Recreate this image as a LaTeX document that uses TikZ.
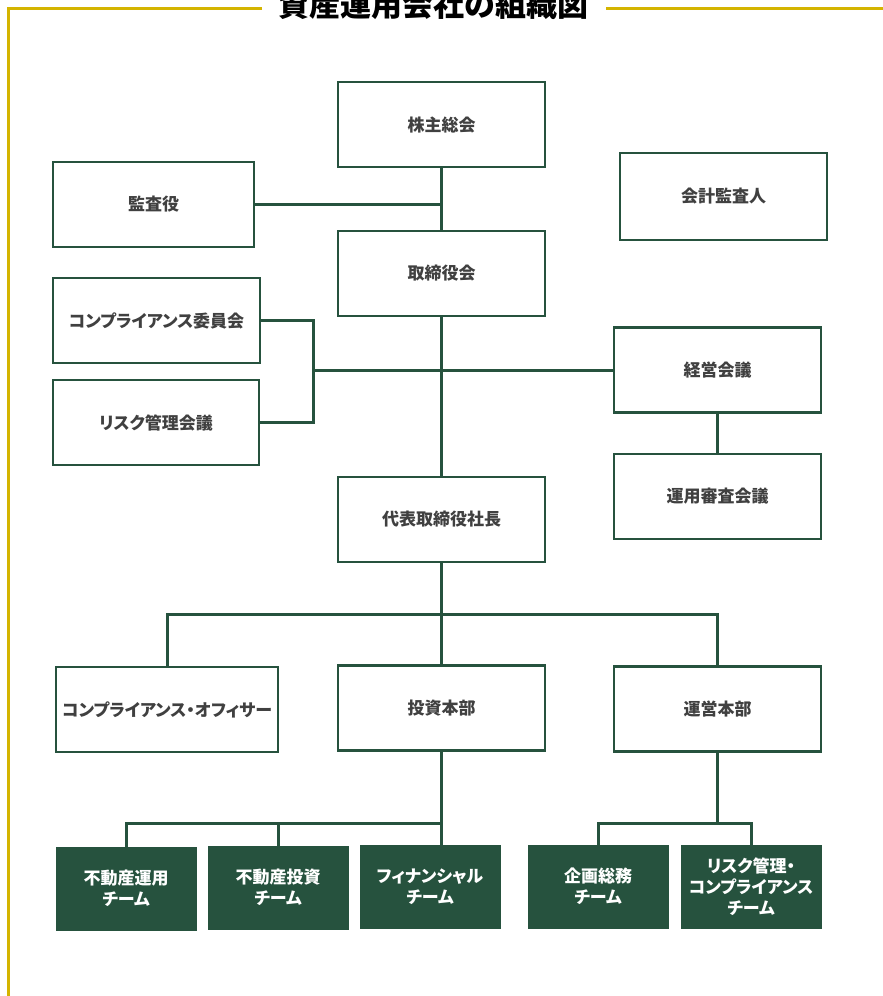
\documentclass[tikz,border=0pt]{standalone}
\usepackage{fontspec}
\setmainfont{Noto Sans CJK JP}[RawFeature=+palt]
\usetikzlibrary{positioning}

\definecolor{orggreen}{RGB}{38,82,62}
\definecolor{framegold}{RGB}{212,180,0}
\definecolor{boxtext}{RGB}{64,64,64}

\begin{document}
\begin{tikzpicture}[x=1pt,y=-1pt,
  orgbox/.style={draw=orggreen,line width=2.2pt,fill=white,
    minimum width=207pt,minimum height=85pt,inner sep=0pt,
    font=\fontsize{17}{21}\selectfont\bfseries,text=boxtext,align=center},
  teambox/.style={draw=orggreen,line width=1pt,fill=orggreen,
    minimum width=140pt,minimum height=83pt,inner sep=0pt,
    font=\fontsize{17}{21}\selectfont\bfseries,text=white,align=center},
  link/.style={draw=orggreen,line width=3pt},
  frameline/.style={draw=framegold,line width=3pt}]
\useasboundingbox (0,0) rectangle (883,996);

% title and frame
\node[font=\fontsize{31}{36}\selectfont\bfseries,inner sep=0pt](title) at (433.5,5){資産運用会社の組織図};
\draw[frameline](262,8) -- (8,8) -- (8,996);
\draw[frameline](606,8) -- (883,8);

% upper part
\node[orgbox](kabu) at (441.5,124.5){株主総会};
\node[orgbox,minimum width=201pt](kansa) at (153.5,204.5){監査役};
\node[orgbox,minimum height=87pt](kaikei) at (723.5,196.5){会計監査人};
\node[orgbox](torishimari) at (441.5,273.5){取締役会};
\node[orgbox](comp) at (156.5,320.5){コンプライアンス委員会};
\node[orgbox,minimum width=206pt](risk) at (156,422.5){リスク管理会議};
\node[orgbox](keiei) at (717.5,370){経営会議};
\node[orgbox](shinsa) at (717.5,496.5){運用審査会議};
\node[orgbox](daihyo) at (441.5,519.5){代表取締役社長};

% middle part
\node[orgbox,minimum width=222pt](officer) at (167,709.5){コンプライアンス・オフィサー};
\node[orgbox](toshi) at (441.5,708){投資本部};
\node[orgbox](unei) at (717.5,709){運営本部};

% teams
\node[teambox](t1) at (126,888.5){不動産運用\\チーム};
\node[teambox](t2) at (278,887.5){不動産投資\\チーム};
\node[teambox](t3) at (430,887){フィナンシャル\\チーム};
\node[teambox](t4) at (598,886.5){企画総務\\チーム};
\node[teambox](t5) at (751,886.5){リスク管理・\\コンプライアンス\\チーム};

\coordinate (cr) at (313,370);
\coordinate (b1) at (441.5,614);
\coordinate (b2) at (441.5,823);
\coordinate (b3) at (717.5,823);

\draw[link](kabu) -- (torishimari);
\draw[link](torishimari) -- (daihyo);
\draw[link](kansa.east) -- (kansa.east -| kabu.south);
\draw[link](comp.east) -| (cr) |- (risk.east);
\draw[link](cr) -- (keiei.west);
\draw[link](keiei) -- (shinsa);
\draw[link](daihyo) -- (b1);
\draw[link](officer.north) |- (b1) -| (unei.north);
\draw[link](b1) -- (toshi);
\draw[link](toshi) -- (b2);
\draw[link](t1.north) |- (b2);
\draw[link](t2.north) |- (b2);
\draw[link](b2) -- (b2 |- t3.north);
\draw[link](unei) -- (b3);
\draw[link](t4.north) |- (b3) -| (t5.north);
\end{tikzpicture}
\end{document}
